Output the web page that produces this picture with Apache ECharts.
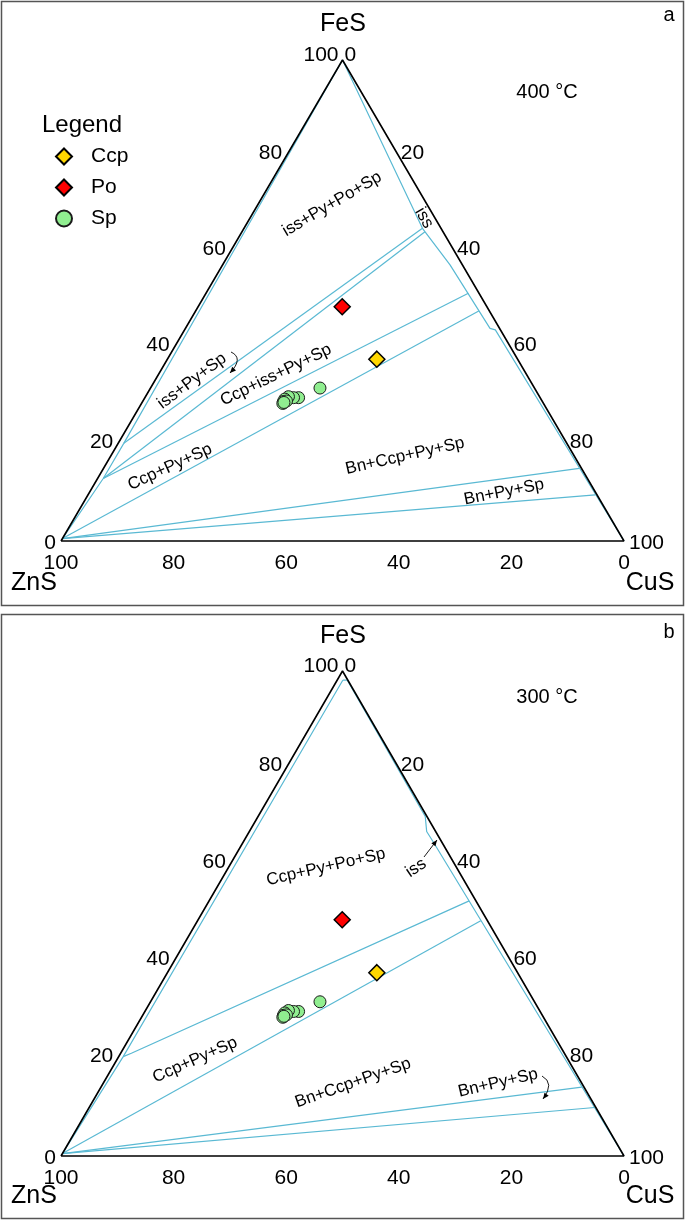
<!DOCTYPE html>
<html><head><meta charset="utf-8">
<script src="https://cdn.jsdelivr.net/npm/echarts@6/dist/echarts.min.js"></script>
<style>html,body{margin:0;padding:0;background:#fff}#c{width:685px;height:1221px}</style>
</head><body><div id="c"></div>
<script>
// ---- Sample compositions (mol %), identical in both panels ----
const ccpFeS = [37.8];  const ccpCuS = [37.2];  const ccpZnS = [25.0];
const poFeS  = [48.7];  const poCuS  = [25.6];  const poZnS  = [25.7];
const spFeS = [31.8, 29.8, 29.8, 30.0, 29.5, 29.0, 29.1, 28.6, 28.8];
const spCuS = [30.1, 27.3, 26.4, 25.4, 25.0, 25.0, 25.5, 25.1, 25.2];
const spZnS = [38.1, 42.9, 43.8, 44.6, 45.5, 46.0, 45.4, 46.3, 46.0];

// ---- Tick labels ----
const tickValues = [0, 20, 40, 60, 80, 100];

// ---- Phase boundaries, [FeS, CuS] mol % ----
// Panel a (400 °C)
const aSpLimit  = [[100,0],[20.3,1.0],[13.0,1.0],[0.5,0]];
const aIssLimit = [[100,0],[65.0,31.7],[57.4,40.4],[44.2,54.1],[43.9,55.2],[0,100]];
const aTie1 = [[65.0,31.7],[20.3,1.0]];
const aTie2 = [[64.3,32.5],[13.0,1.0]];
const aTie3 = [[51.5,46.6],[13.0,1.0]];
const aTie4 = [[47.8,50.3],[0.5,0]];
const aTie5 = [[15.1,84.5],[0.5,0]];
const aTie6 = [[9.6,90.1],[0.5,0]];
// Panel b (300 °C)
const bSpLimit  = [[98.1,1.0],[20.5,0.8],[0.5,0]];
const bCap      = [[98.1,1.0],[98.1,1.8]];
const bIssLimit = [[98.1,1.8],[70.0,29.7],[66.9,31.5],[64.8,33.7],[0,100]];
const bTie1 = [[52.6,46.2],[21.2,1.9],[20.5,0.8]];
const bTie2 = [[48.5,50.3],[0.5,0]];
const bTie3 = [[14.2,85.4],[0.5,0]];
const bTie4 = [[10.0,89.8],[0.5,0]];

const FONT = "'Liberation Sans', Arial, Helvetica, sans-serif";
const BLUE = '#5ab9d3';

function tern(fe, cu, zn) {
  if (zn === undefined) zn = 100 - fe - cu;
  const s = fe + cu + zn;
  const f = fe / s * 100, c = cu / s * 100;
  return [c + f / 2, f];
}

const series = [];
function boundary(pts, gi) {
  series.push({type:'line', xAxisIndex:gi, yAxisIndex:gi, data: pts.map(p => tern(p[0], p[1])),
    showSymbol:false, symbol:'none', silent:true, clip:false, z:2,
    lineStyle:{color:BLUE, width:1.2}});
}
[aSpLimit,aIssLimit,aTie1,aTie2,aTie3,aTie4,aTie5,aTie6].forEach(p => boundary(p,0));
[bSpLimit,bCap,bIssLimit,bTie1,bTie2,bTie3,bTie4].forEach(p => boundary(p,1));

for (let gi = 0; gi < 2; gi++) {
  // triangle outline
  series.push({type:'line', xAxisIndex:gi, yAxisIndex:gi,
    data:[tern(0,0,100), tern(0,100,0), tern(100,0,0), tern(0,0,100)],
    showSymbol:false, symbol:'none', silent:true, clip:false, z:3,
    lineStyle:{color:'#000', width:1.6}});
  // tick labels
  const lbl = {show:true, color:'#000', opacity:1, fontSize:21, fontFamily:FONT, formatter: p => p.value[2]};
  const mk = (pos, arr) => ({type:'scatter', xAxisIndex:gi, yAxisIndex:gi, symbol:'circle', symbolSize:0, silent:true,
     itemStyle:{color:'#000', opacity:1}, z:4, clip:false, data: arr, label: Object.assign({}, lbl, pos)});
  series.push(mk({position:'left', distance:4, offset:[0,-3]},
     tickValues.map(v => {
       const d = {value: tern(v, 0).concat(v)};
       if (v === 0) d.label = {offset:[0,2], distance:5};
       if (v === 100) d.label = {offset:[0,-5], distance:4};
       return d;
     })));
  series.push(mk({position:'right', distance:2, offset:[0,-3]},
     tickValues.map(v => {
       const d = {value: tern(100 - v, v, 0).concat(v)};
       if (v === 100) d.label = {offset:[0,2], distance:5};
       if (v === 0) d.label = {offset:[0,-5], distance:2};
       return d;
     })));
  series.push(mk({position:'bottom', distance:12},
     tickValues.map(v => ({value: tern(0, 100 - v, v).concat(v)}))));

  // samples
  series.push({name:'Sp', type:'scatter', xAxisIndex:gi, yAxisIndex:gi, symbol:'circle', symbolSize:12, z:10,
    itemStyle:{color:'#90ee90', borderColor:'#1a1a1a', borderWidth:1, opacity:1},
    data: spFeS.map((f,i) => tern(f, spCuS[i], spZnS[i]))});
  series.push({name:'Ccp', type:'scatter', xAxisIndex:gi, yAxisIndex:gi, symbol:'diamond', symbolSize:16, z:11,
    itemStyle:{color:'#ffd700', borderColor:'#000', borderWidth:1.5, opacity:1},
    data: ccpFeS.map((f,i) => tern(f, ccpCuS[i], ccpZnS[i]))});
  series.push({name:'Po', type:'scatter', xAxisIndex:gi, yAxisIndex:gi, symbol:'diamond', symbolSize:16, z:11,
    itemStyle:{color:'#ff0000', borderColor:'#000', borderWidth:1.5, opacity:1},
    data: poFeS.map((f,i) => tern(f, poCuS[i], poZnS[i]))});
}

// ---- annotations (pixel layout) ----
const graphics = [];
function txt(t, x, y, size, rotDeg) {
  graphics.push({type:'text', x:x, y:y, rotation:(rotDeg||0)*Math.PI/180, z:20, silent:true,
    style:{text:t, font: size + 'px ' + FONT, fill:'#000', align:'center', verticalAlign:'middle'}});
}
function arrowHead(x, y, fromX, fromY) {
  const dx = x - fromX, dy = y - fromY, L = Math.hypot(dx, dy);
  const ux = dx / L, uy = dy / L, len = 6, hw = 2.6;
  graphics.push({type:'polygon', z:20, silent:true, shape:{points:[[x,y],
    [x - ux*len - uy*hw, y - uy*len + ux*hw], [x - ux*len + uy*hw, y - uy*len - ux*hw]]},
    style:{fill:'#000'}});
}
function curveArrow(x1,y1,cx,cy,x2,y2) {
  graphics.push({type:'bezierCurve', z:20, silent:true, shape:{x1:x1,y1:y1,cpx1:cx,cpy1:cy,x2:x2,y2:y2},
    style:{stroke:'#000', lineWidth:0.9, fill:null}});
  arrowHead(x2, y2, cx, cy);
}
function lineArrow(x1,y1,x2,y2) {
  graphics.push({type:'line', z:20, silent:true, shape:{x1:x1,y1:y1,x2:x2,y2:y2},
    style:{stroke:'#000', lineWidth:0.9}});
  arrowHead(x2, y2, x1, y1);
}
// frames
graphics.push({type:'rect', shape:{x:1.5,y:1.5,width:682,height:604}, style:{fill:null, stroke:'#555', lineWidth:1.5}, silent:true});
graphics.push({type:'rect', shape:{x:1.5,y:614.5,width:682,height:604}, style:{fill:null, stroke:'#555', lineWidth:1.5}, silent:true});
// panel a
txt('FeS', 343, 24, 25); txt('ZnS', 34, 583, 25); txt('CuS', 650, 583, 25);
txt('a', 669, 15, 20); txt('400 °C', 547, 92, 20);
txt('Legend', 82, 125, 24);
txt('iss+Py+Po+Sp', 332, 204, 17, 30.5);
txt('iss', 424, 218, 17, -60);
txt('iss+Py+Sp', 192, 381, 17, 37);
txt('Ccp+iss+Py+Sp', 276, 375, 17, 26);
txt('Ccp+Py+Sp', 170, 467, 17, 24.6);
txt('Bn+Ccp+Py+Sp', 405, 456, 17, 12.8);
txt('Bn+Py+Sp', 504, 492, 17, 11.2);
curveArrow(231, 352, 244, 358, 230, 373);
// panel b
txt('FeS', 343, 636, 25); txt('ZnS', 34, 1196, 25); txt('CuS', 650, 1196, 25);
txt('b', 669, 632, 20); txt('300 °C', 547, 697, 20);
txt('Ccp+Py+Po+Sp', 326, 867, 17, 12.9);
txt('iss', 416, 868, 17, 33.7);
txt('Ccp+Py+Sp', 195, 1060, 17, 24);
txt('Bn+Ccp+Py+Sp', 353, 1083, 17, 19.4);
txt('Bn+Py+Sp', 498, 1083, 17, 13.2);
lineArrow(424, 857, 437, 840);
curveArrow(542, 1076, 555, 1083, 543, 1099);

const axisBase = {type:'value', min:0, max:100, show:false};
const option = {
  animation:false,
  backgroundColor:'#fff',
  grid:[{left:61, top:60, width:563, height:481}, {left:61, top:671, width:563, height:485}],
  xAxis:[Object.assign({gridIndex:0}, axisBase), Object.assign({gridIndex:1}, axisBase)],
  yAxis:[Object.assign({gridIndex:0}, axisBase), Object.assign({gridIndex:1}, axisBase)],
  legend:{data:['Ccp','Po','Sp'], orient:'vertical', left:50, top:141, itemWidth:16, itemHeight:16, itemGap:10,
    selectedMode:false, textStyle:{fontSize:21, lineHeight:21, fontFamily:FONT, color:'#000', padding:[0,0,0,14]}},
  series: series,
  graphic: graphics
};
const chart = echarts.init(document.getElementById('c'), null, {renderer:'canvas'});
chart.setOption(option);
</script></body></html>
